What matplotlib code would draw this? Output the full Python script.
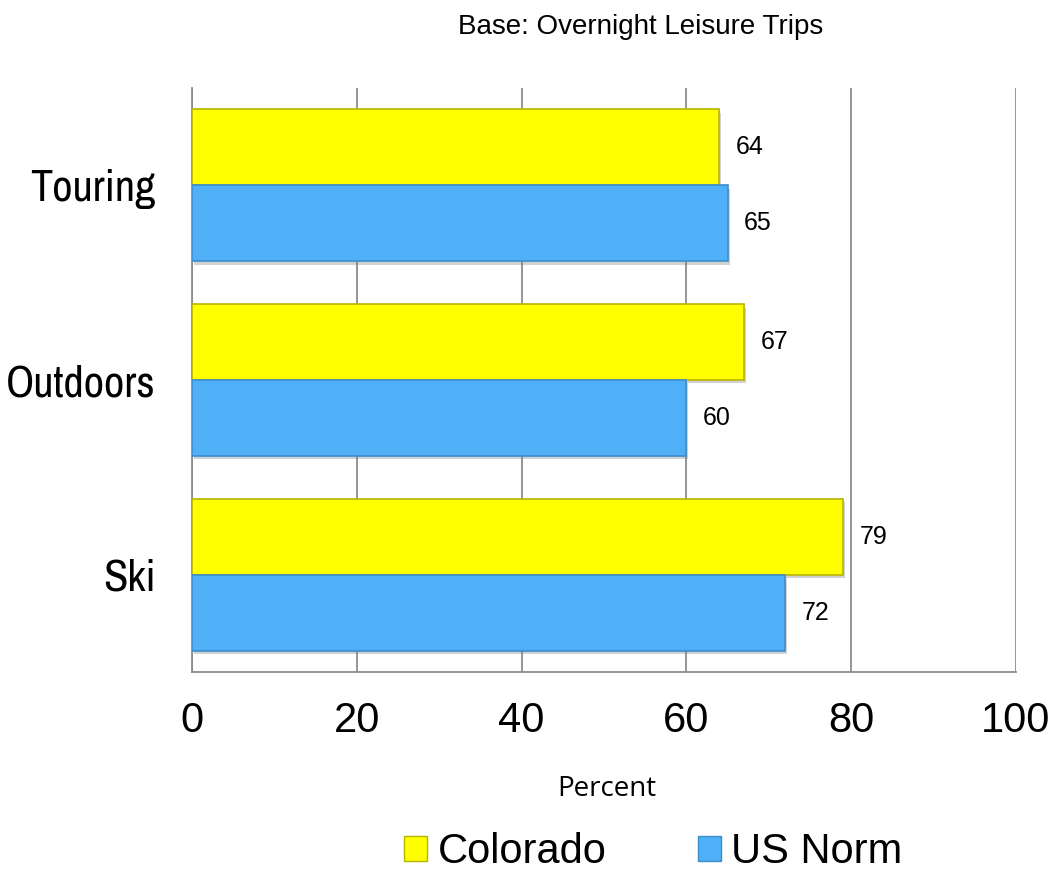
import matplotlib
matplotlib.use("Agg")
import matplotlib.pyplot as plt
import matplotlib.patheffects as pe
import numpy as np
from matplotlib.patches import Patch

categories = ["Touring", "Outdoors", "Ski"]
colorado = [64, 67, 79]
us_norm = [65, 60, 72]
xticks = [0, 20, 40, 60, 80, 100]

fig = plt.figure(figsize=(10.52, 8.75), dpi=100)
ax = fig.add_axes([0.1825, 0.232, 0.7833, 0.6674])

y = np.arange(len(categories))
h = 0.39
shadow = [pe.SimplePatchShadow(offset=(1.5, -2.5), shadow_rgbFace="#808080", alpha=0.35), pe.Normal()]
b1 = ax.barh(y - h / 2, colorado, height=h, color="#FFFF00", edgecolor="#B8B400", linewidth=1.2, zorder=3)
b2 = ax.barh(y + h / 2, us_norm, height=h, color="#4FB0F7", edgecolor="#3C8DCC", linewidth=1.2, zorder=3)
for bar in list(b1) + list(b2):
    bar.set_path_effects(shadow)

for yi, v in zip(y, colorado):
    ax.text(v + 2.0, yi - h / 2, str(v), va="center", ha="left", fontsize=18, family="Liberation Sans")
for yi, v in zip(y, us_norm):
    ax.text(v + 2.0, yi + h / 2, str(v), va="center", ha="left", fontsize=18, family="Liberation Sans")

ax.set_ylim(2.5, -0.5)
ax.set_xlim(0, 100)
ax.set_yticks(y)
ax.set_yticklabels(categories, fontsize=32, family=["Archivo Narrow", "Liberation Sans"])
ax.set_xticks(xticks)
ax.set_xticklabels([str(t) for t in xticks], fontsize=30, family="Liberation Sans")
ax.tick_params(axis="both", length=0)
ax.tick_params(axis="x", pad=21)
ax.tick_params(axis="y", pad=26)
ax.xaxis.grid(True, color="#8C8C8C", linewidth=1.3, zorder=0)
for s in ["top", "right"]:
    ax.spines[s].set_visible(False)
for s in ["left", "bottom"]:
    ax.spines[s].set_color("#8C8C8C")
    ax.spines[s].set_linewidth(1.3)

fig.text(0.609, 0.969, "Base: Overnight Leisure Trips", ha="center", va="center", fontsize=20, family="Liberation Sans")
fig.text(0.577, 0.098, "Percent", ha="center", va="center", fontsize=20, family="Open Sans")

handles = [Patch(facecolor="#FFFF00", edgecolor="#B8B400"), Patch(facecolor="#4FB0F7", edgecolor="#3C8DCC")]
fig.legend(handles, ["Colorado", "US Norm"], loc="center", bbox_to_anchor=(0.621, 0.026), ncol=2,
           frameon=False, prop={"family": "Liberation Sans", "size": 30}, borderpad=0.1,
           handlelength=0.55, handleheight=0.55, handletextpad=0.25, columnspacing=2.2)

fig.savefig("out.png", dpi=100)
